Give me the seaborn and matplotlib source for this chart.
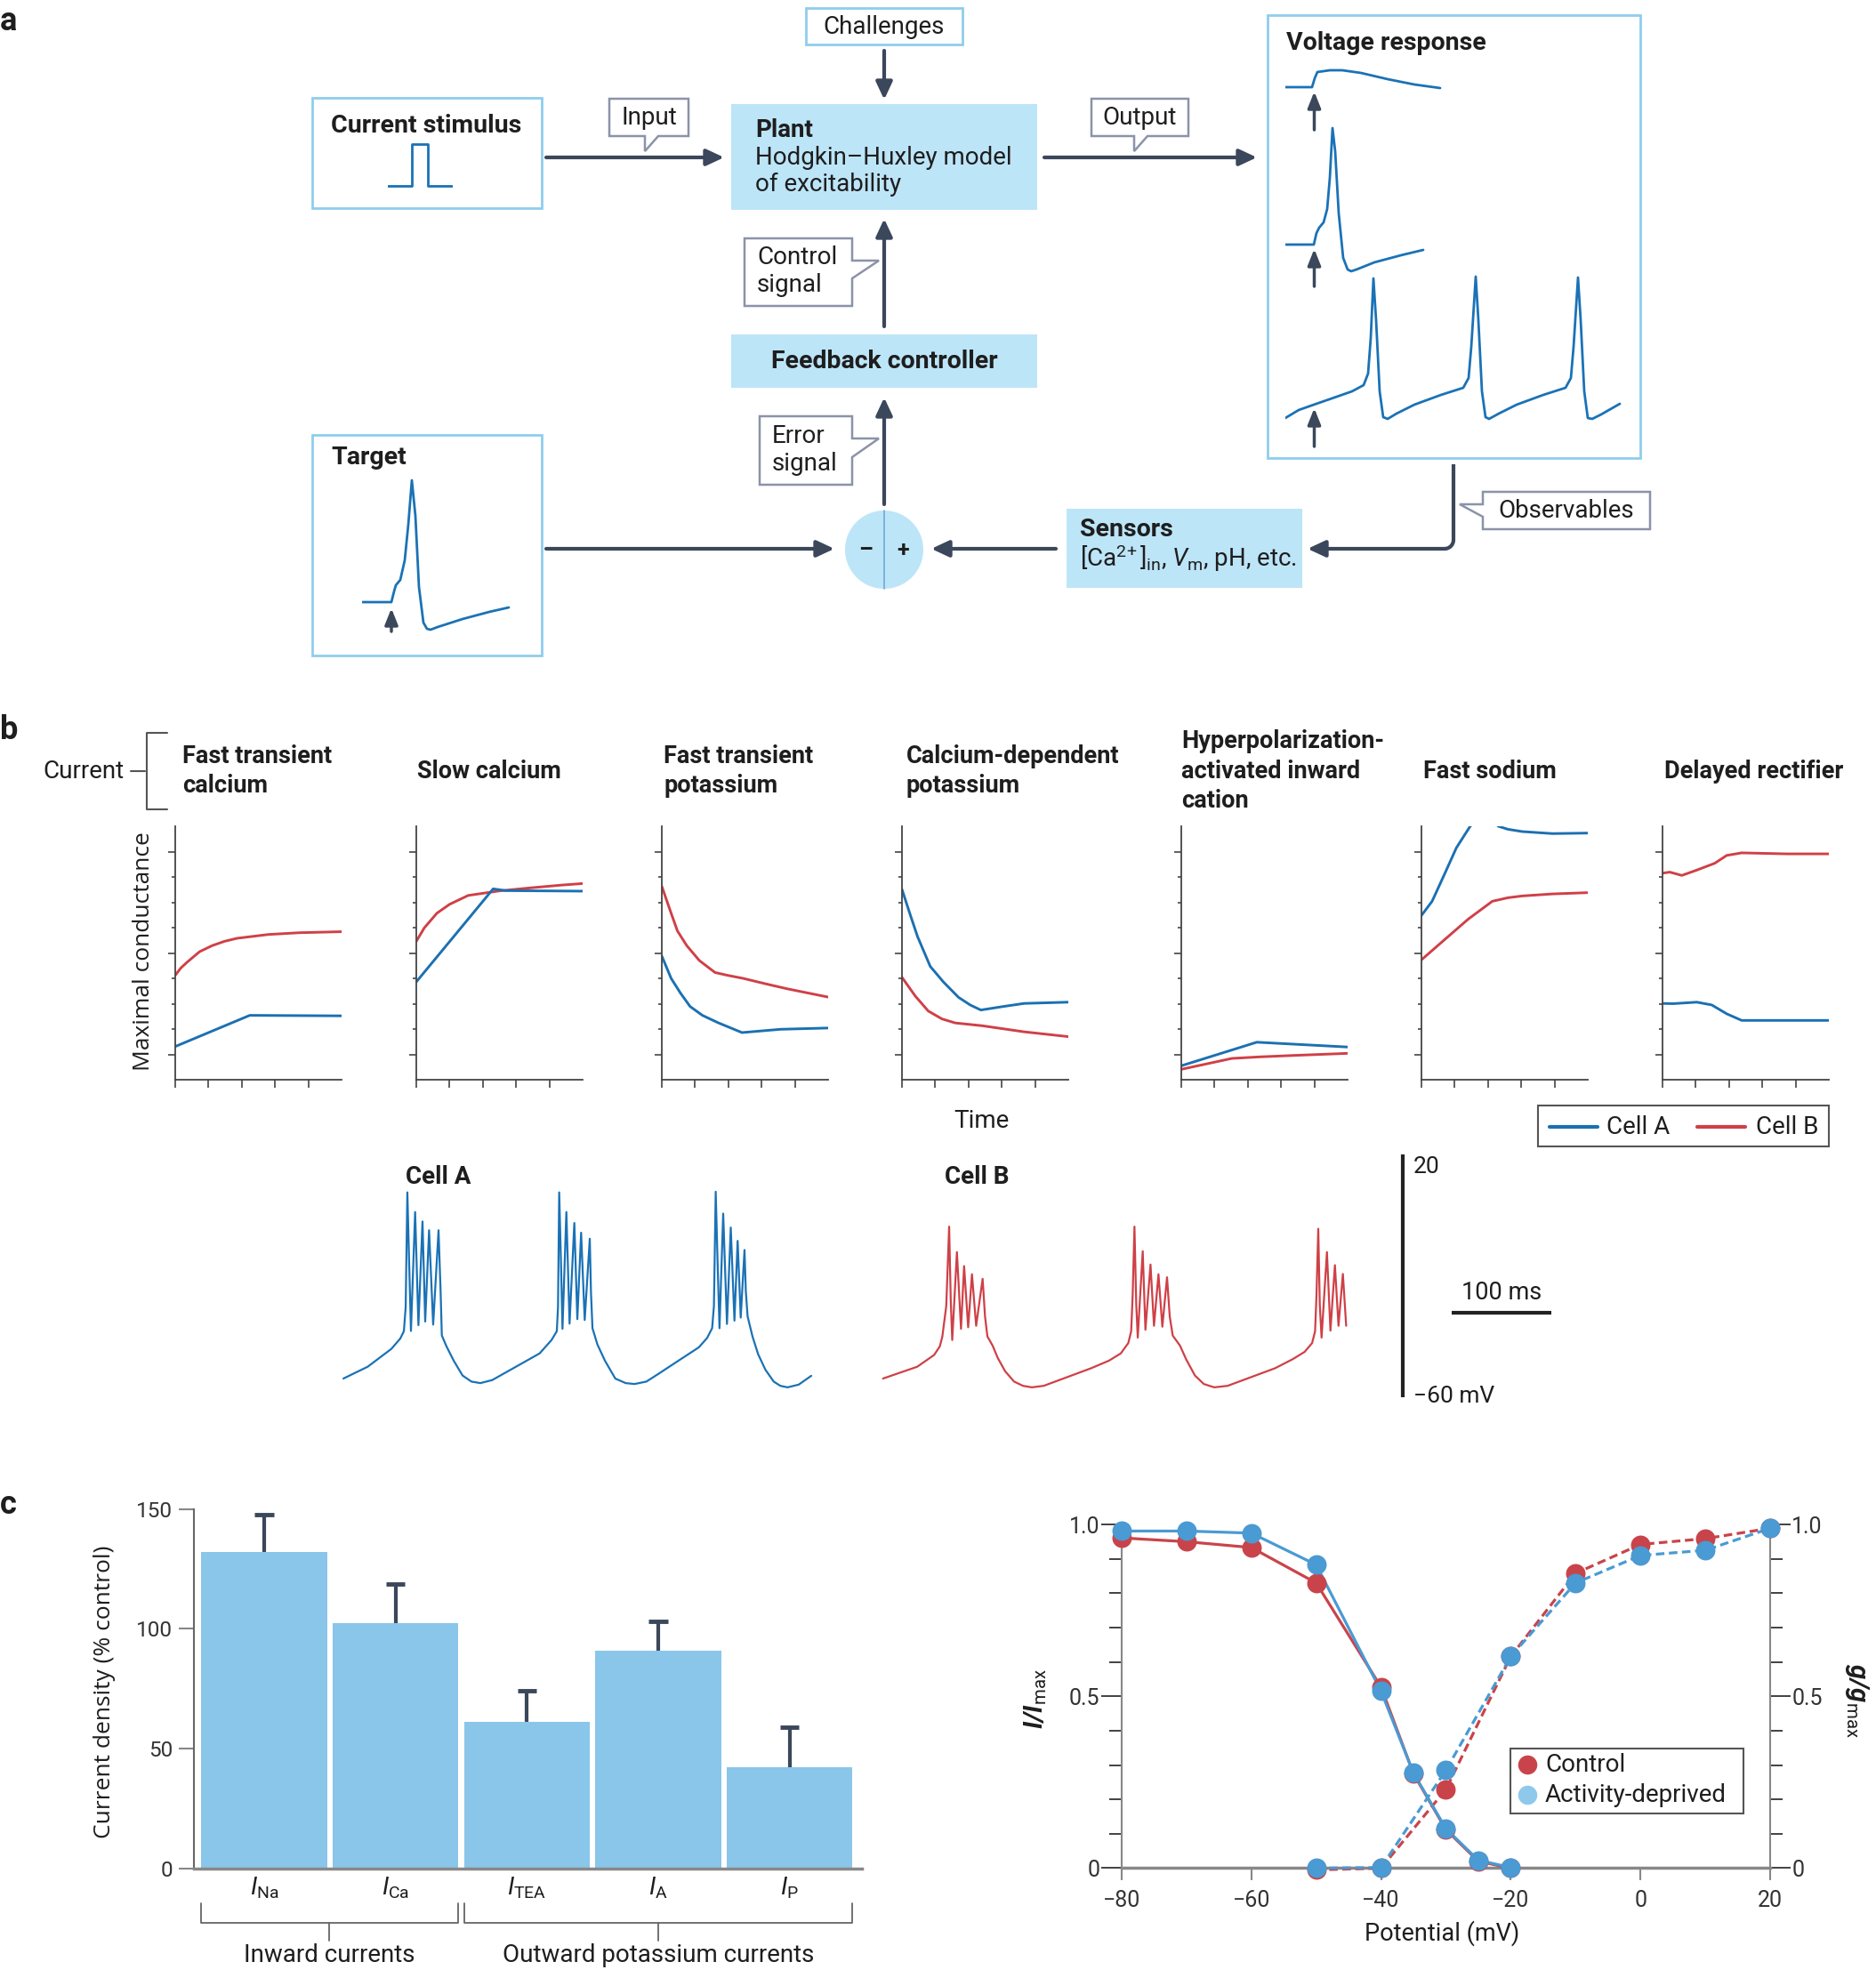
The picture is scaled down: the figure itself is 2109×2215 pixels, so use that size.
import numpy as np
import matplotlib
matplotlib.use("Agg")
import matplotlib.pyplot as plt
from matplotlib.patches import Rectangle, Polygon, Circle
import seaborn as sns

W, H = 2109, 2215

# ---- panel a: illustrative traces (t in ms, v in mV) ----
pulse_t = [0, 13.5, 13.5, 22.25, 22.25, 36.3]
pulse_i = [0, 0, 1, 1, 0, 0]

sub_t = [0, 15, 16.5, 18, 25, 32, 42.5, 57.5, 72.5, 87]
sub_v = [-65, -65, -60, -56.5, -55.5, -55.5, -57, -60.5, -63.5, -65.5]

spike_t = [0, 16, 17.5, 19, 21.5, 23.5, 25, 26.5, 28, 30, 32.5, 35, 37, 40, 50, 65, 77.5]
spike_v = [-65, -65, -58.5, -55.5, -52.5, -45, -27.5, 0.5, -12.5, -47.5, -72.5, -79, -80, -79, -75, -71, -68]

tonic_t = [0, 7.5, 16, 27.5, 37.5, 44, 46.5, 48, 49.5, 51, 53, 55, 57.5, 62.5, 72.5, 87.5, 100, 103,
           104.5, 107, 108.5, 110.5, 112.5, 114.5, 120, 130, 145, 157.5, 160.5, 162, 164.5, 166, 168,
           170, 172.5, 177.5, 188]
tonic_v = [-65, -60.5, -57.5, -53.5, -50, -46.5, -40, -20, 13.5, -10, -50, -64.5, -65.5, -62.5, -57.5,
           -52, -48, -42.5, -25, 14.5, -10, -50, -64.5, -65.5, -62.5, -57.5, -52, -48, -42.5, -25, 14,
           -10, -50, -65, -65.5, -63, -57]

target_t = [0, 16.5, 18, 19, 21.5, 24, 26, 28, 30, 32, 34.5, 36.5, 38.5, 42.5, 56.5, 71.5, 82.5]
target_v = [-65, -65, -59, -55.5, -52.5, -41.5, -21.5, 3.5, -16.5, -56.5, -76.5, -80, -80.5, -79, -74.5, -70.5, -68]

# ---- panel b: maximal conductance over time (arbitrary units) ----
cond_titles = [["Fast transient", "calcium"], ["Slow calcium"], ["Fast transient", "potassium"],
               ["Calcium-dependent", "potassium"], ["Hyperpolarization-", "activated inward", "cation"],
               ["Fast sodium"], ["Delayed rectifier"]]

cat_x_red = [0, 0.17, 0.36, 0.73, 1.11, 1.48, 1.86, 2.8, 3.74, 5.0]
cat_g_red = [4.12, 4.41, 4.64, 5.05, 5.29, 5.46, 5.58, 5.73, 5.80, 5.84]
cat_x_blue = [0, 2.24, 5.0]
cat_g_blue = [1.31, 2.54, 2.52]

cas_x_red = [0, 0.24, 0.62, 1.0, 1.56, 2.5, 3.44, 4.38, 5.0]
cas_g_red = [5.46, 5.99, 6.57, 6.92, 7.27, 7.45, 7.57, 7.68, 7.74]
cas_x_blue = [0, 2.31, 2.69, 5.0]
cas_g_blue = [3.86, 7.53, 7.46, 7.44]

ka_x_red = [0, 0.28, 0.47, 0.75, 1.13, 1.6, 1.97, 2.44, 3.10, 3.76, 5.0]
ka_g_red = [7.63, 6.57, 5.87, 5.29, 4.70, 4.23, 4.12, 4.0, 3.79, 3.59, 3.26]
ka_x_blue = [0, 0.28, 0.56, 0.85, 1.22, 1.69, 2.41, 3.57, 5.0]
ka_g_blue = [4.88, 4.0, 3.42, 2.89, 2.54, 2.25, 1.86, 1.99, 2.04]

kca_x_red = [0, 0.4, 0.79, 1.2, 1.6, 2.41, 3.67, 5.0]
kca_g_red = [4.04, 3.3, 2.71, 2.4, 2.24, 2.13, 1.89, 1.70]
kca_x_blue = [0, 0.25, 0.47, 0.85, 1.25, 1.7, 2.05, 2.37, 3.0, 3.67, 5.0]
kca_g_blue = [7.51, 6.5, 5.64, 4.47, 3.85, 3.25, 2.95, 2.75, 2.88, 3.01, 3.06]

h_x_red = [0, 1.52, 2.33, 3.41, 5.0]
h_g_red = [0.41, 0.84, 0.90, 0.96, 1.04]
h_x_blue = [0, 2.27, 5.0]
h_g_blue = [0.55, 1.48, 1.29]

na_x_red = [0, 0.69, 1.41, 2.13, 2.6, 3.03, 3.94, 5.0]
na_g_red = [4.73, 5.52, 6.34, 7.04, 7.18, 7.25, 7.33, 7.38]
na_x_blue = [0, 0.32, 0.69, 1.05, 1.46, 1.9, 2.31, 2.6, 3.03, 3.94, 5.0]
na_g_blue = [6.48, 7.04, 8.10, 9.15, 9.99, 10.6, 10.0, 9.88, 9.79, 9.71, 9.73]

kd_x_red = [0, 0.22, 0.58, 1.03, 1.57, 1.93, 2.38, 3.74, 5.0]
kd_g_red = [8.15, 8.19, 8.06, 8.27, 8.54, 8.85, 8.95, 8.91, 8.91]
kd_x_blue = [0, 0.31, 1.03, 1.48, 1.93, 2.38, 5.0]
kd_g_blue = [3.01, 3.0, 3.06, 2.95, 2.60, 2.34, 2.34]

# bursting voltage traces (ms, mV)
cell_a_t = [5.4, 29.8, 53.6, 62.5, 66.1, 67.9, 69.6, 71.4, 73.2, 77.4, 80.7, 84.8, 87.5, 91.4, 95.5,
            100.9, 103.0, 104.2, 108.6, 116.1, 125.0, 133.9, 142.9, 154.8, 178.6, 202.4, 214.3, 219.6,
            220.8, 222.0, 223.8, 225.3, 229.2, 232.4, 237.2, 240.2, 244.0, 247.6, 252.7, 253.9, 255.4,
            260.4, 267.9, 278.3, 288.7, 297.6, 309.5, 321.4, 337.1, 362.2, 370.5, 375.5, 377.3, 379.1,
            381.0, 382.9, 386.6, 390.4, 394.2, 397.9, 401.1, 404.2, 408.0, 409.3, 411.1, 416.0, 421.7,
            429.0, 437.3, 444.0, 451.2, 462.4, 475.0]
cell_a_v = [-53.9, -50.0, -44.1, -40.7, -38.3, -30.4, 7.5, -15.8, -38.2, 1.0, -36.3, -2.1, -35.1, -5.0,
            -36.1, -5.0, -25.5, -39.7, -43.1, -48.0, -52.9, -54.9, -55.4, -54.4, -50.0, -45.6, -41.2,
            -38.3, -30.4, 7.5, -15.8, -37.5, 1.0, -35.8, -2.6, -34.3, -5.8, -34.6, -7.8, -25.5, -37.3,
            -42.7, -48.0, -53.9, -55.4, -55.7, -54.9, -52.4, -49.0, -43.6, -40.5, -37.3, -30.0, 7.7,
            -15.8, -37.3, 0.5, -35.9, -4.1, -34.8, -8.5, -33.8, -11.5, -25.0, -33.4, -40.0, -45.9,
            -51.0, -54.9, -56.3, -56.8, -55.9, -53.0]
cell_b_t = [547.0, 581.4, 598.4, 604.0, 606.5, 610.5, 613.4, 615.0, 616.5, 621.2, 625.3, 628.4, 632.5,
            636.3, 640.5, 647.0, 649.4, 651.8, 657.1, 662.2, 669.6, 678.6, 687.5, 696.4, 708.3, 732.1,
            755.9, 773.8, 785.7, 793.2, 796.1, 797.6, 799.4, 801.2, 802.7, 807.7, 810.4, 815.5, 819.0,
            823.5, 827.4, 832.1, 834.8, 837.8, 845.2, 851.2, 860.1, 869.0, 879.5, 892.9, 916.7, 940.5,
            958.3, 970.2, 977.7, 980.7, 982.1, 983.9, 985.4, 987.2, 992.6, 996.1, 1000.6, 1004.2,
            1008.6, 1011.9]
cell_b_v = [-53.9, -50.0, -46.1, -43.3, -40.2, -30.0, -3.8, -28.0, -41.2, -12.2, -37.5, -16.8, -37.0,
            -19.5, -36.5, -21.0, -33.4, -40.0, -43.1, -47.1, -51.5, -54.9, -56.3, -56.8, -56.3, -53.4,
            -50.5, -48.0, -45.6, -42.2, -38.3, -26.5, -3.8, -29.4, -40.4, -11.9, -37.8, -16.3, -36.5,
            -19.5, -36.8, -20.5, -33.4, -39.7, -43.1, -47.5, -52.9, -55.7, -56.8, -56.3, -53.4, -50.5,
            -47.5, -45.1, -42.2, -38.3, -26.5, -4.5, -29.4, -40.4, -12.2, -38.1, -16.5, -36.5, -19.4,
            -36.5]

# ---- panel c ----
bar_names = ["Na", "Ca", "TEA", "A", "P"]
bar_values = [132.2, 102.4, 61.3, 90.7, 42.2]
bar_err_top = [147.7, 118.9, 74.3, 103.1, 58.9]

inact_mv = [-80, -70, -60, -50, -40, -35, -30, -25, -20]
inact_control = [0.961, 0.950, 0.933, 0.830, 0.527, 0.275, 0.112, 0.02, 0.0]
inact_deprived = [0.981, 0.981, 0.975, 0.883, 0.515, 0.277, 0.115, 0.023, 0.002]
act_mv = [-50, -40, -30, -20, -10, 0, 10, 20]
act_control = [-0.005, 0.0, 0.229, 0.616, 0.858, 0.942, 0.959, 0.989]
act_deprived = [0.0, 0.002, 0.285, 0.616, 0.830, 0.910, 0.925, 0.989]

# ------------------------------------------------------------------
sns.set_theme(style="white")
plt.rcParams['font.family'] = ['Roboto', 'DejaVu Sans']
plt.rcParams['mathtext.fontset'] = 'custom'
plt.rcParams['mathtext.rm'] = 'Roboto'
plt.rcParams['mathtext.it'] = 'Roboto:italic'
plt.rcParams['mathtext.bf'] = 'Roboto:bold'
plt.rcParams['mathtext.bfit'] = 'Roboto:italic:bold'

DARK = "#3b475a"
BOXFILL = "#bde5f8"
BOXEDGE = "#8fcdec"
CALLOUT = "#8b93a8"
TRACE = "#1a72b6"
BLUE = "#1b70b2"
RED = "#cf4047"
BAR = "#8ac6e9"
PT_BLUE = "#4a9ad3"
PT_RED = "#c9444a"
TXT = "#1e1e1e"

fig = plt.figure(figsize=(W / 100, H / 100), dpi=100)
dg = fig.add_axes([0, 0, 1, 1])
dg.set_xlim(0, W)
dg.set_ylim(H, 0)
dg.axis('off')


def add_ax(x0, y0, x1, y1):
    ax = fig.add_axes([x0 / W, 1 - y1 / H, (x1 - x0) / W, (y1 - y0) / H])
    ax.set_facecolor('none')
    return ax


def txt(x, y, s, size=20, **kw):
    kw.setdefault('va', 'center')
    kw.setdefault('color', TXT)
    dg.text(x, y, s, fontsize=size, **kw)


def arrow(ax, x0, y0, x1, y1, lw=3, hl=0.6, hw=0.28):
    ax.annotate("", xy=(x1, y1), xytext=(x0, y0),
                arrowprops=dict(arrowstyle=f"-|>,head_length={hl},head_width={hw}", color=DARK,
                                lw=lw, shrinkA=0, shrinkB=0, mutation_scale=20))


def box(x0, y0, x1, y1, fill=None, edge=None, lw=2):
    dg.add_patch(Rectangle((x0, y0), x1 - x0, y1 - y0, facecolor=fill if fill else 'white',
                           edgecolor=edge if edge else 'none', lw=lw))


def callout(pts, lw=1.8):
    dg.add_patch(Polygon(pts, closed=True, facecolor='white', edgecolor=CALLOUT, lw=lw))


# ================= panel a =================
txt(0, 24, "a", size=26, weight='bold', ha='left')

box(906, 9, 1082, 50, edge=BOXEDGE)
txt(994, 30, "Challenges", ha='center')
arrow(dg, 994, 57, 994, 112)

box(822, 117, 1166, 236, fill=BOXFILL)
txt(849, 146, "Plant", weight='bold', ha='left')
txt(849, 177, "Hodgkin\u2013Huxley model", ha='left')
txt(849, 207, "of excitability", ha='left')

box(351, 110, 609, 234, edge=BOXEDGE)
txt(372, 141, "Current stimulus", weight='bold', ha='left', size=20.5)

arrow(dg, 614, 177, 814, 177)
callout([(685, 111), (774, 111), (774, 153), (740, 153), (725, 170), (725, 153), (685, 153)])
txt(729.5, 132, "Input", ha='center')

arrow(dg, 1174, 177, 1413, 177)
callout([(1227, 111), (1336, 111), (1336, 153), (1290, 153), (1275, 170), (1275, 153), (1227, 153)])
txt(1281.5, 132, "Output", ha='center')

box(1425, 17, 1844, 515, edge=BOXEDGE)
txt(1446, 48, "Voltage response", weight='bold', ha='left', size=20.5)

arrow(dg, 994, 367, 994, 246)
callout([(837, 268), (958, 268), (958, 293), (988, 293), (958, 313), (958, 344), (837, 344)])
txt(851, 289, "Control", ha='left')
txt(851, 320, "signal", ha='left')

box(822, 376, 1166, 436, fill=BOXFILL)
txt(994, 406, "Feedback controller", weight='bold', ha='center', size=20.5)

arrow(dg, 994, 567, 994, 447)
callout([(854, 468), (958, 468), (958, 493), (988, 493), (958, 514), (958, 545), (854, 545)])
txt(868, 490, "Error", ha='left')
txt(868, 521, "signal", ha='left')

dg.add_patch(Circle((994, 618), 44, facecolor=BOXFILL, edgecolor='none'))
dg.plot([994, 994], [574, 662], color="#6fa9d6", lw=1.2)
txt(973, 619, "\u2013", ha='center', weight='bold', size=18)
txt(1015, 619, "+", ha='center', weight='bold', size=18)

box(351, 489, 609, 737, edge=BOXEDGE)
txt(372, 514, "Target", weight='bold', ha='left', size=20.5)
arrow(dg, 614, 617, 938, 617)

box(1199, 572, 1464, 661, fill=BOXFILL)
txt(1214, 595, "Sensors", weight='bold', ha='left', size=20.5)
txt(1214, 628, r"[Ca$^{2\!+}$]$_{\mathrm{in}}$, $\mathit{V}_{\mathrm{m}}$, pH, etc.", ha='left')
arrow(dg, 1187, 617, 1047, 617)

# observables line with rounded corner
ang = np.linspace(0, np.pi / 2, 12)
cx, cy, r = 1624, 607, 10
corner_x = cx + r * np.cos(ang)
corner_y = cy + r * np.sin(ang)
dg.plot(np.r_[1634, corner_x], np.r_[522, corner_y], color=DARK, lw=3, solid_capstyle='butt')
arrow(dg, 1625, 617, 1470, 617)
callout([(1855, 553), (1855, 595), (1667, 595), (1667, 581), (1641, 567), (1667, 567), (1667, 553)])
txt(1761, 574, "Observables", ha='center')

# stimulus pulse
ax = add_ax(436, 158, 509.1, 212)
sns.lineplot(x=pulse_t, y=pulse_i, ax=ax, color=TRACE, lw=2, estimator=None, sort=False)
ax.set_xlim(0, 36.55)
ax.set_ylim(-0.075, 1.086)
ax.axis('off')

# voltage responses
ax = add_ax(1445, 60, 1845, 520)
sns.lineplot(x=sub_t, y=np.array(sub_v) + 276, ax=ax, color=TRACE, lw=2, estimator=None, sort=False)
sns.lineplot(x=spike_t, y=np.array(spike_v) + 187.5, ax=ax, color=TRACE, lw=2, estimator=None, sort=False)
sns.lineplot(x=tonic_t, y=np.array(tonic_v) + 90, ax=ax, color=TRACE, lw=2, estimator=None, sort=False)
ax.set_xlim(0, 200)
ax.set_ylim(0, 230)
ax.axis('off')
for y0, y1 in [(187, 208.5), (99, 120), (9, 30.5)]:
    arrow(ax, 16.25, y0, 16.25, y1, lw=2.5, hl=0.55, hw=0.22)

# target
ax = add_ax(407, 530, 607, 720)
sns.lineplot(x=target_t, y=target_v, ax=ax, color=TRACE, lw=2, estimator=None, sort=False)
ax.set_xlim(0, 100)
ax.set_ylim(-86.5, 8.5)
ax.axis('off')
arrow(ax, 16.5, -81.5, 16.5, -68.5, lw=2.5, hl=0.55, hw=0.22)

# ================= panel b =================
txt(0, 821, "b", size=26, weight='bold', ha='left')
txt(140, 867, "Current", ha='right')
dg.plot([147, 163], [867, 867], color="#555555", lw=1.5)
dg.plot([188, 165, 165, 188], [824, 824, 910, 910], color="#555555", lw=1.5)

title_x = [205, 469, 746, 1019, 1328, 1600, 1871]
axes_x = [197, 468, 744, 1014, 1328, 1598, 1869]
line_y = {1: [867], 2: [850, 883], 3: [833, 867, 900]}
curves = [(cat_x_red, cat_g_red, cat_x_blue, cat_g_blue),
          (cas_x_red, cas_g_red, cas_x_blue, cas_g_blue),
          (ka_x_red, ka_g_red, ka_x_blue, ka_g_blue),
          (kca_x_red, kca_g_red, kca_x_blue, kca_g_blue),
          (h_x_red, h_g_red, h_x_blue, h_g_blue),
          (na_x_red, na_g_red, na_x_blue, na_g_blue),
          (kd_x_red, kd_g_red, kd_x_blue, kd_g_blue)]

for i in range(7):
    lines = cond_titles[i]
    for s, y in zip(lines, line_y[len(lines)]):
        txt(title_x[i], y, s, weight='bold', ha='left', size=19.5)
    ax = add_ax(axes_x[i], 929, axes_x[i] + 187, 1214)
    xr, gr, xb, gb = curves[i]
    sns.lineplot(x=xr, y=gr, ax=ax, color=RED, lw=2.1, estimator=None, sort=False)
    sns.lineplot(x=xb, y=gb, ax=ax, color=BLUE, lw=2.1, estimator=None, sort=False)
    ax.set_xlim(0, 5)
    ax.set_ylim(0, 10)
    sns.despine(ax=ax)
    for sp in ['left', 'bottom']:
        ax.spines[sp].set_color('#444444')
        ax.spines[sp].set_linewidth(1.3)
    ax.set_xticks(range(5))
    ax.set_yticks([1, 5, 9])
    ax.set_yticks([2, 3, 4, 6, 7, 8], minor=True)
    ax.tick_params(axis='x', direction='out', length=6.5, width=1.2, color='#444444', labelbottom=False)
    ax.tick_params(axis='y', which='major', direction='out', length=5.5, width=1.2, color='#444444',
                   left=True, labelleft=False)
    ax.tick_params(axis='y', which='minor', direction='out', length=3, width=1.2, color='#444444', left=True)
    ax.tick_params(axis='x', bottom=True)
    ax.set_xlabel("")
    ax.set_ylabel("")

dg.text(161, 1070, "Maximal conductance", rotation=90, ha='center', va='center', fontsize=19,
        family=['Open Sans', 'DejaVu Sans'], color=TXT)
txt(1103, 1260, "Time", ha='center')

# legend for cell A / B
box(1729, 1243, 2056, 1289, edge="#555555", lw=1.5)
dg.plot([1742, 1796], [1267, 1267], color=BLUE, lw=3)
txt(1806, 1267, "Cell A", ha='left')
dg.plot([1908, 1962], [1267, 1267], color=RED, lw=3)
txt(1974, 1267, "Cell B", ha='left')

txt(456, 1323, "Cell A", weight='bold', ha='left', size=20)
txt(1062, 1323, "Cell B", weight='bold', ha='left', size=20)

ax = add_ax(380, 1290, 1760, 1580)
sns.lineplot(x=cell_a_t, y=cell_a_v, ax=ax, color=TRACE, lw=1.6, estimator=None, sort=False)
sns.lineplot(x=cell_b_t, y=cell_b_v, ax=ax, color=RED, lw=1.6, estimator=None, sort=False)
ax.plot([1068.75, 1068.75], [-60, 20], color="#222222", lw=3, solid_capstyle='butt')
ax.plot([1117.9, 1217.9], [-32.2, -32.2], color="#222222", lw=3, solid_capstyle='butt')
ax.set_xlim(0, 1232.1)
ax.set_ylim(-62.7, 22.35)
ax.axis('off')
txt(1589, 1312, "20", ha='left', size=19)
txt(1589, 1570, "\u221260 mV", ha='left', size=19)
txt(1688, 1453, "100 ms", ha='center', size=19.5)

# ================= panel c =================
txt(0, 1692, "c", size=26, weight='bold', ha='left')

ax = add_ax(217.6, 1696.8, 969, 2100.5)
sns.barplot(x=bar_names, y=bar_values, ax=ax, color=BAR, saturation=1, width=0.957, linewidth=0,
            errorbar=None)
pos = np.arange(len(bar_values))
ax.vlines(pos, bar_values, bar_err_top, color=DARK, lw=3)
ax.hlines(bar_err_top, pos - 0.072, pos + 0.072, color=DARK, lw=3.5)
ax.set_xlim(-0.538, 4.55)
ax.set_ylim(0, 150)
sns.despine(ax=ax)
ax.spines['left'].set_color('#666666')
ax.spines['left'].set_linewidth(1.5)
ax.spines['bottom'].set_color('#888888')
ax.spines['bottom'].set_linewidth(2.5)
ax.set_yticks([0, 50, 100, 150])
ax.set_yticklabels(["0", "50", "100", "150"])
ax.tick_params(axis='y', direction='out', length=12, width=1.5, color='#888888', left=True,
               labelsize=17.5, labelcolor='#333333', pad=5)
ax.set_xticks(pos)
ax.set_xticklabels([r"$\mathit{I}_{\mathrm{%s}}$" % n for n in bar_names])
ax.tick_params(axis='x', length=0, labelsize=20, pad=6, labelcolor=TXT)
ax.set_xlabel("")
ax.set_ylabel("")
dg.text(117, 1902, "Current density (% control)", rotation=90, ha='center', va='center', fontsize=19,
        family=['Open Sans', 'DejaVu Sans'], color=TXT)

for x0, x1, xc in [(226, 515, 370), (522, 958, 740)]:
    dg.plot([x0, x0, x1, x1], [2140, 2162, 2162, 2140], color="#666666", lw=1.3)
    dg.plot([xc, xc], [2162, 2182], color="#666666", lw=1.3)
txt(370, 2199, "Inward currents", ha='center')
txt(740, 2199, "Outward potassium currents", ha='center')

# steady-state activation / inactivation
ax = add_ax(1230, 1700, 2020, 2120)
sns.lineplot(x=act_mv, y=act_control, ax=ax, color=PT_RED, lw=2.3, linestyle=(0, (3, 1.6)),
             estimator=None, sort=False)
sns.lineplot(x=inact_mv, y=inact_control, ax=ax, color=PT_RED, lw=2.3, estimator=None, sort=False)
sns.scatterplot(x=act_mv + inact_mv, y=act_control + inact_control, ax=ax, color=PT_RED, s=250,
                linewidth=0, zorder=3)
sns.lineplot(x=act_mv, y=act_deprived, ax=ax, color=PT_BLUE, lw=2.3, linestyle=(0, (3, 1.6)),
             estimator=None, sort=False)
sns.lineplot(x=inact_mv, y=inact_deprived, ax=ax, color=PT_BLUE, lw=2.3, estimator=None, sort=False)
sns.scatterplot(x=act_mv + inact_mv, y=act_deprived + inact_deprived, ax=ax, color=PT_BLUE, s=250,
                linewidth=0, zorder=4)
ax.set_xlim(-84.24, 24.11)
ax.set_ylim(-0.0505, 1.0365)
ax.spines['top'].set_visible(False)
ax.spines['left'].set_position(('data', -80))
ax.spines['right'].set_position(('data', 20))
ax.spines['bottom'].set_position(('data', 0))
ax.spines['left'].set_bounds(0, 1)
ax.spines['right'].set_bounds(0, 1)
ax.spines['bottom'].set_bounds(-80, 20)
for sp in ['left', 'right']:
    ax.spines[sp].set_color('#888888')
    ax.spines[sp].set_linewidth(1.5)
ax.spines['bottom'].set_color('#888888')
ax.spines['bottom'].set_linewidth(2.5)
ax.spines['bottom'].set_zorder(1)
ax.set_xticks([-80, -60, -40, -20, 0, 20])
ax.set_xticklabels(["\u221280", "\u221260", "\u221240", "\u221220", "0", "20"])
ax.set_yticks([0, 0.5, 1.0])
ax.set_yticklabels(["0", "0.5", "1.0"])
ax.set_yticks(np.arange(1, 10) / 10, minor=True)
ax.tick_params(axis='x', direction='out', length=10, width=1.5, color='#888888', bottom=True,
               labelsize=18, pad=8, labelcolor='#333333')
ax.tick_params(axis='y', which='major', direction='out', length=16.5, width=1.3, color='#333333',
               left=True, right=True, labelleft=True, labelright=True, labelsize=18, pad=1,
               labelcolor='#333333')
ax.tick_params(axis='y', which='minor', direction='out', length=10, width=1.3, color='#333333',
               left=True, right=True)
ax.set_xlabel("")
ax.set_ylabel("")
txt(1621, 2174, "Potential (mV)", ha='center', size=19.5)

dg.text(1164, 1910, r"$\mathbfit{I/I}_{\mathrm{max}}$", rotation=90, ha='center', va='center',
        fontsize=21, color=TXT)
dg.text(2087, 1912, r"$\mathbfit{g/g}_{\mathrm{max}}$", rotation=-90, ha='center', va='center',
        fontsize=21, color=TXT)

box(1698, 1966, 1960, 2039, edge="#555555", lw=1.5)
dg.plot([1716.5], [1984], 'o', color=PT_RED, markersize=15.5, markeredgewidth=0)
dg.plot([1716.5], [2018], 'o', color="#8ec9ec", markersize=15.5, markeredgewidth=0)
txt(1737, 1984, "Control", ha='left')
txt(1737, 2018, "Activity-deprived", ha='left')

fig.savefig("out.png", dpi=100)
